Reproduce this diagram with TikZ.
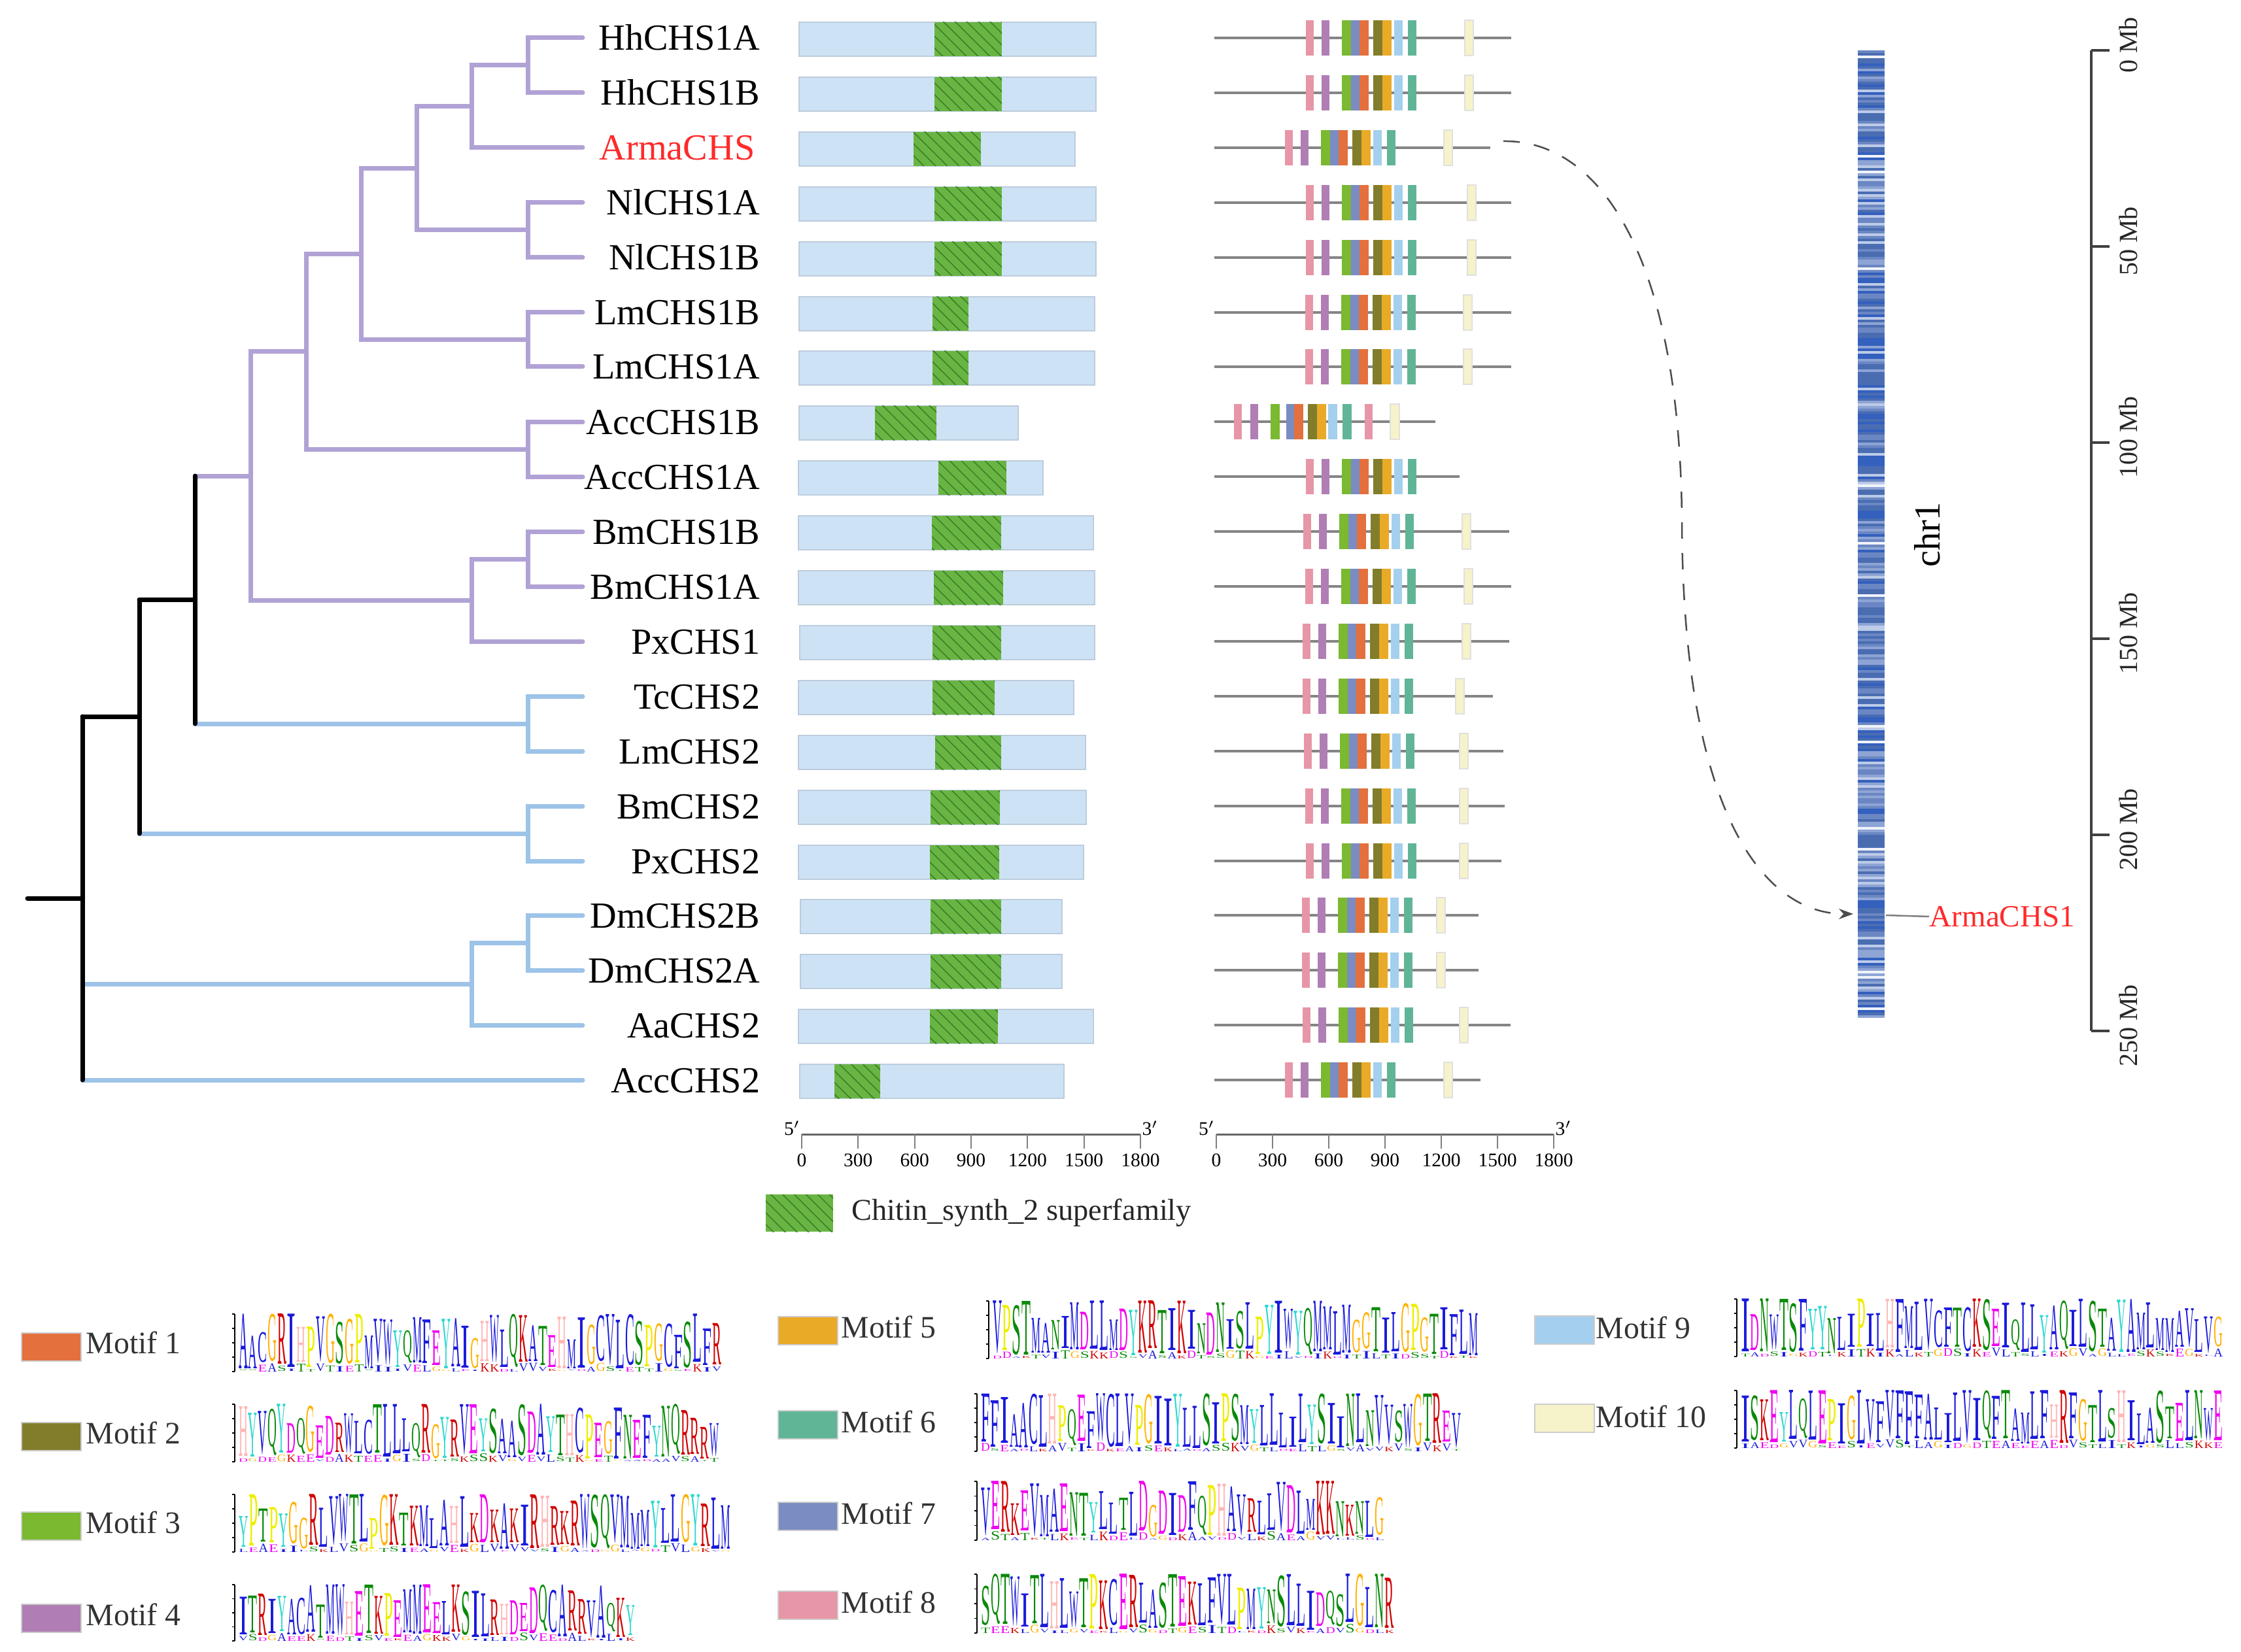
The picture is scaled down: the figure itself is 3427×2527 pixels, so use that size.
\documentclass[tikz,border=0pt]{standalone}
\usepackage{fontspec}
\setmainfont{Liberation Serif}
\usetikzlibrary{arrows.meta,patterns.meta}
\newdimen\pxu \pxu=0.1mm
% tree / panel colours
\definecolor{tpur}{HTML}{B1A2D6}
\definecolor{tblu}{HTML}{9DC4E8}
\definecolor{barfill}{HTML}{CDE3F5}
\definecolor{barline}{HTML}{BCCCDC}
\definecolor{dgreen}{HTML}{69B543}
\definecolor{dhatch}{HTML}{3C7F28}
\definecolor{mlinec}{HTML}{858585}
\definecolor{armared}{HTML}{FF2A2A}
% motif colours
\definecolor{m1}{HTML}{E4703D}
\definecolor{m2}{HTML}{827D2B}
\definecolor{m3}{HTML}{7AB930}
\definecolor{m4}{HTML}{B07EB4}
\definecolor{m5}{HTML}{E9AA27}
\definecolor{m6}{HTML}{60B596}
\definecolor{m7}{HTML}{7A8CC1}
\definecolor{m8}{HTML}{E796A7}
\definecolor{m9}{HTML}{A5CFEE}
\definecolor{m10}{HTML}{F6F3CA}
% chromosome colours
\definecolor{chA}{HTML}{4A6DB2}
\definecolor{chB}{HTML}{3460BE}
\definecolor{chC}{HTML}{6B87C3}
\definecolor{chD}{HTML}{8DA4D4}
\definecolor{chE}{HTML}{BDCBE8}
\definecolor{chF}{HTML}{F0F3FA}
% logo colours
\definecolor{lgblue}{HTML}{1A1ADB}
\definecolor{lggreen}{HTML}{0A8A0A}
\definecolor{lgmag}{HTML}{F000F0}
\definecolor{lgred}{HTML}{D00000}
\definecolor{lgpink}{HTML}{FFB6B6}
\definecolor{lgorange}{HTML}{FFB000}
\definecolor{lgyellow}{HTML}{EEEE00}
\definecolor{lgcyan}{HTML}{30D8D0}
\colorlet{lgA}{lgblue}\colorlet{lgC}{lgblue}\colorlet{lgF}{lgblue}\colorlet{lgI}{lgblue}
\colorlet{lgL}{lgblue}\colorlet{lgV}{lgblue}\colorlet{lgW}{lgblue}\colorlet{lgM}{lgblue}
\colorlet{lgN}{lggreen}\colorlet{lgQ}{lggreen}\colorlet{lgS}{lggreen}\colorlet{lgT}{lggreen}
\colorlet{lgD}{lgmag}\colorlet{lgE}{lgmag}
\colorlet{lgK}{lgred}\colorlet{lgR}{lgred}
\colorlet{lgH}{lgpink}\colorlet{lgG}{lgorange}\colorlet{lgP}{lgyellow}\colorlet{lgY}{lgcyan}

\tikzset{
  tp/.style={line width=0.7mm, draw=tpur, line cap=round},
  tb/.style={line width=0.7mm, draw=tblu, line cap=round},
  tk/.style={line width=0.7mm, draw=black, line cap=round},
  tl/.style={font=\fontsize{16}{19}\selectfont, inner sep=0pt, anchor=base east},
  barbox/.style={fill=barfill, draw=barline, line width=0.2mm},
  hatchbox/.style={fill=dgreen, postaction={pattern={Lines[angle=-45,distance=3.6pt,line width=0.45pt]}, pattern color=dhatch}},
  mline/.style={draw=mlinec, line width=0.4mm},
  axisl/.style={draw=gray!80!black, line width=0.3mm},
  ticklab/.style={font=\fontsize{8.4}{10}\selectfont, inner sep=0pt},
  motlab/.style={font=\fontsize{13.6}{16}\selectfont, text=black!80, inner sep=0pt, anchor=base west},
  motbox/.style={draw=black!20, line width=0.15mm},
  mblab/.style={font=\fontsize{11.4}{13}\selectfont, inner sep=0pt, rotate=90, text=black!85},
  lgl/.style={inner sep=0pt, outer sep=0pt, anchor=south west},
}

% domain row: y, left, right, green left, green right
\newcommand\drow[5]{%
  \draw[barbox] (#2,{#1-24}) rectangle (#3,{#1+28});
  \fill[hatchbox] (#4,{#1-24}) rectangle (#5,{#1+28});
}
% motif row: y, pink x, cream x (0 = none), line end
\newcommand\mrow[4]{%
  \draw[mline] (1857,#1) -- (#4,#1);
  \foreach \mo/\mw/\mc in {0/12/m8,24/12/m4,55/14/m3,69/13/m7,82/14/m1,103/14/m2,117/14/m5,135/13/m9,156/13/m6}
    \fill[\mc] ({#2+\mo},{#1-27}) rectangle ({#2+\mo+\mw},{#1+27});
  \ifnum#3>0 \filldraw[fill=m10, draw=black!12, line width=0.15mm] (#3,{#1-27}) rectangle ({#3+13},{#1+27});\fi
}
\pgfmathdeclarerandomlist{tinyl}{{A}{S}{L}{V}{K}{E}{G}{T}{D}{I}}
% logo: x0, x1, ybottom, height, list
\newcommand\logo[5]{%
  \foreach \lgch [count=\lgi] in {#5} {\xdef\logon{\lgi}}
  \pgfmathsetmacro\lgcw{(#2-#1)/\logon}
  \pgfmathsetmacro\lgw{0.94*\lgcw}
  \draw[black, line width=0.2mm] ({#1-6},#3) -- ({#1-6},{#3-#4});
  \foreach \tk in {0,0.25,0.5,0.75,1} \draw[black, line width=0.15mm] ({#1-10},{#3-#4*\tk}) -- ({#1-6},{#3-#4*\tk});
  \foreach \lgch [count=\lgi] in {#5} {
    \pgfmathsetmacro\lgbb{#4*(0.05+0.13*rnd)}
    \pgfmathsetmacro\lghh{min(#4*(0.5+0.5*rnd), #4-\lgbb)}
    \pgfmathsetmacro\lgtb{\lgbb-3}
    \pgfmathrandomitem{\tinych}{tinyl}
    \node[lgl] at ({#1+(\lgi-1)*\lgcw},{#3-\lgbb}) {\resizebox*{\lgw\pxu}{\lghh\pxu}{\textcolor{lg\lgch}{\lgch}}};
    \node[lgl] at ({#1+(\lgi-1)*\lgcw},#3) {\resizebox*{\lgw\pxu}{\lgtb\pxu}{\textcolor{lg\tinych}{\tinych}}};
  }
}

\begin{document}
\begin{tikzpicture}[x=0.1mm, y=-0.1mm]
\useasboundingbox (0,0) rectangle (3427,2527);
\pgfmathsetseed{11}

% ---------------- tree ----------------
\foreach \i/\yy in {1/58,2/142,3/226,4/310,5/394,6/478,7/561,8/645,9/729,10/813,11/897,12/981,13/1065,14/1149,15/1233,16/1317,17/1400,18/1484,19/1568,20/1652}
  \coordinate (L\i) at (891,\yy);
\coordinate (nHh) at (807,100);
\coordinate (nHhA) at (721,163);
\coordinate (nNl) at (807,352);
\coordinate (nHN) at (637,257.5);
\coordinate (nLm) at (807,519.5);
\coordinate (nHNL) at (552,388.5);
\coordinate (nAcc1) at (807,687);
\coordinate (nP1a) at (468,538);
\coordinate (nBm) at (807,855);
\coordinate (nBP) at (721,918);
\coordinate (nP1) at (383,728);
\coordinate (nTL) at (807,1107);
\coordinate (nB1) at (298,917.5);
\coordinate (nBP2) at (807,1275);
\coordinate (nB2) at (213,1096);
\coordinate (nDm) at (807,1442);
\coordinate (nDA) at (721,1505);
\coordinate (root) at (126,1374);
\coordinate (r0) at (42,1374);

\draw[tp] (nHh) |- (L1); \draw[tp] (nHh) |- (L2);
\draw[tp] (nHhA) |- (nHh); \draw[tp] (nHhA) |- (L3);
\draw[tp] (nNl) |- (L4); \draw[tp] (nNl) |- (L5);
\draw[tp] (nHN) |- (nHhA); \draw[tp] (nHN) |- (nNl);
\draw[tp] (nLm) |- (L6); \draw[tp] (nLm) |- (L7);
\draw[tp] (nHNL) |- (nHN); \draw[tp] (nHNL) |- (nLm);
\draw[tp] (nAcc1) |- (L8); \draw[tp] (nAcc1) |- (L9);
\draw[tp] (nP1a) |- (nHNL); \draw[tp] (nP1a) |- (nAcc1);
\draw[tp] (nBm) |- (L10); \draw[tp] (nBm) |- (L11);
\draw[tp] (nBP) |- (nBm); \draw[tp] (nBP) |- (L12);
\draw[tp] (nP1) |- (nP1a); \draw[tp] (nP1) |- (nBP);
\draw[tp] (nB1 |- nP1) -- (nP1);
\draw[tb] (nTL) |- (L13); \draw[tb] (nTL) |- (L14);
\draw[tb] (nB1 |- nTL) -- (nTL);
\draw[tk] (nB1 |- nP1) -- (nB1 |- nTL);
\draw[tb] (nBP2) |- (L15); \draw[tb] (nBP2) |- (L16);
\draw[tk] (nB2 |- nB1) -- (nB1);
\draw[tb] (nB2 |- nBP2) -- (nBP2);
\draw[tk] (nB2 |- nB1) -- (nB2 |- nBP2);
\draw[tb] (nDm) |- (L17); \draw[tb] (nDm) |- (L18);
\draw[tb] (nDA) |- (nDm); \draw[tb] (nDA) |- (L19);
\draw[tk] (root |- nB2) -- (nB2);
\draw[tb] (root |- nDA) -- (nDA);
\draw[tb] (root |- L20) -- (L20);
\draw[tk] (root |- nB2) -- (root |- L20);
\draw[tk] (r0) -- (root);

% labels
\foreach \i/\yy/\nm in {1/58/HhCHS1A,2/142/HhCHS1B,4/310/NlCHS1A,5/394/NlCHS1B,6/478/LmCHS1B,7/561/LmCHS1A,8/645/AccCHS1B,9/729/AccCHS1A,10/813/BmCHS1B,11/897/BmCHS1A,12/981/PxCHS1,13/1065/TcCHS2,14/1149/LmCHS2,15/1233/BmCHS2,16/1317/PxCHS2,17/1400/DmCHS2B,18/1484/DmCHS2A,19/1568/AaCHS2,20/1652/AccCHS2}
  \node[tl] (lab\i) at (1163,{\yy+19}) {\nm};
\node[tl, text=armared] (lab3) at (1155,{226+19}) {ArmaCHS};

% ---------------- domain bars ----------------
\drow{58}{1222}{1676}{1429}{1532}
\drow{142}{1222}{1676}{1429}{1532}
\drow{226}{1222}{1644}{1397}{1500}
\drow{310}{1222}{1676}{1429}{1532}
\drow{394}{1222}{1676}{1429}{1532}
\drow{478}{1222}{1674}{1426}{1481}
\drow{561}{1222}{1674}{1426}{1481}
\drow{645}{1222}{1557}{1338}{1432}
\drow{729}{1221}{1595}{1435}{1539}
\drow{813}{1221}{1672}{1425}{1531}
\drow{897}{1221}{1674}{1428}{1534}
\drow{981}{1223}{1674}{1426}{1531}
\drow{1065}{1221}{1642}{1426}{1521}
\drow{1149}{1221}{1660}{1430}{1531}
\drow{1233}{1221}{1661}{1423}{1529}
\drow{1317}{1221}{1657}{1422}{1528}
\drow{1400}{1224}{1624}{1423}{1531}
\drow{1484}{1224}{1624}{1423}{1531}
\drow{1568}{1221}{1672}{1422}{1526}
\drow{1652}{1223}{1627}{1276}{1346}

% ---------------- motif rows ----------------
\mrow{58}{1997}{2240}{2311}
\mrow{142}{1997}{2240}{2311}
\mrow{226}{1965}{2208}{2279}
\mrow{310}{1997}{2244}{2311}
\mrow{394}{1997}{2244}{2311}
\mrow{478}{1996}{2238}{2311}
\mrow{561}{1996}{2238}{2311}
\draw[mline] (1857,645) -- (2195,645);
\foreach \ma/\mb/\mc in {1887/1899/m8,1912/1924/m4,1943/1957/m3,1967/1979/m7,1979/1993/m1,2000/2014/m2,2014/2028/m5,2031/2045/m9,2053/2067/m6,2087/2099/m8}
  \fill[\mc] (\ma,{645-27}) rectangle (\mb,{645+27});
\filldraw[fill=m10, draw=black!12, line width=0.15mm] (2126,{645-27}) rectangle (2140,{645+27});
\mrow{729}{1997}{0}{2232}
\mrow{813}{1993}{2236}{2308}
\mrow{897}{1996}{2239}{2311}
\mrow{981}{1992}{2236}{2308}
\mrow{1065}{1992}{2226}{2283}
\mrow{1149}{1994}{2232}{2299}
\mrow{1233}{1996}{2232}{2301}
\mrow{1317}{1997}{2232}{2296}
\mrow{1400}{1991}{2197}{2261}
\mrow{1484}{1991}{2197}{2261}
\mrow{1568}{1992}{2232}{2310}
\mrow{1652}{1965}{2208}{2264}

% ---------------- scales ----------------
\draw[axisl] (1226,1735) -- (1744,1735);
\foreach \k in {0,...,6} {
  \draw[draw=gray, line width=0.18mm] ({1226+\k*86.33},1735) -- ({1226+\k*86.33},1757);
  \pgfmathtruncatemacro\lv{\k*300}
  \node[ticklab] at ({1226+\k*86.33},1775) {\lv};
}
\node[ticklab, anchor=east] at (1224,1726) {5$'$};
\node[ticklab, anchor=west] at (1746,1726) {3$'$};
\draw[axisl] (1860,1735) -- (2376,1735);
\foreach \k in {0,...,6} {
  \draw[draw=gray, line width=0.18mm] ({1860+\k*86},1735) -- ({1860+\k*86},1757);
  \pgfmathtruncatemacro\lv{\k*300}
  \node[ticklab] at ({1860+\k*86},1775) {\lv};
}
\node[ticklab, anchor=east] at (1858,1726) {5$'$};
\node[ticklab, anchor=west] at (2378,1726) {3$'$};

% domain legend
\fill[hatchbox] (1171,1827) rectangle (1274,1884);
\node[font=\fontsize{13.2}{16}\selectfont, inner sep=0pt, anchor=base west, text=black!85] (chitin) at (1302,1866) {Chitin\_synth\_2 superfamily};

% ---------------- chromosome ----------------
\fill[chA] (2841,77) rectangle (2882,1557);
\foreach \k in {0,...,369} {
  \pgfmathrandominteger{\rc}{0}{19}
  \ifcase\rc \def\sc{chA}\or\def\sc{chA}\or\def\sc{chA}\or\def\sc{chA}\or\def\sc{chA}\or\def\sc{chA}\or\def\sc{chB}\or\def\sc{chB}\or\def\sc{chB}\or\def\sc{chB}\or\def\sc{chC}\or\def\sc{chC}\or\def\sc{chC}\or\def\sc{chC}\or\def\sc{chD}\or\def\sc{chD}\or\def\sc{chD}\or\def\sc{chE}\or\def\sc{chE}\or\def\sc{chF}\else\def\sc{chA}\fi
  \fill[\sc] (2841,{77+4*\k}) rectangle (2882,{81+4*\k});
}
\node[font=\fontsize{16}{19}\selectfont, rotate=90, inner sep=0pt] (chr) at (2947,818) {chr1};
\coordinate (chrHit) at (2834,1398);
\coordinate (chrR) at (2884,1400);
\node[font=\fontsize{13.4}{16}\selectfont, text=armared, inner sep=0pt, anchor=west] (armalab) at (2950,1402) {ArmaCHS1};
\draw[draw=gray, line width=0.25mm] (chrR) -- (armalab.west);
\coordinate (armaEnd) at (2299,216);
\coordinate (bend) at (2572,800);
\draw[draw=black!70, line width=0.25mm, dash pattern=on 2.5mm off 2.2mm, -{Stealth[length=2.2mm,width=1.6mm]}]
  (armaEnd) .. controls (2450,214) and (2570,400) .. (bend) .. controls (2574,1250) and (2700,1398) .. (chrHit);

% Mb scale
\draw[draw=black!75, line width=0.35mm] (3198,77) -- (3198,1577);
\foreach \k/\lb in {0/0 Mb,1/50 Mb,2/100 Mb,3/150 Mb,4/200 Mb,5/250 Mb} {
  \draw[draw=black!75, line width=0.35mm] (3198,{77+300*\k}) -- (3226,{77+300*\k});
  \node[mblab] at (3255,{69+300*\k}) {\lb};
}

% ---------------- motif legend ----------------
\foreach \mc/\bx/\by/\tx/\ty/\txt in {m1/33/2039/131/2070/Motif 1, m2/33/2176/131/2208/Motif 2, m3/33/2313/131/2345/Motif 3, m4/33/2454/131/2486/Motif 4, m5/1190/2014/1286/2046/Motif 5, m6/1190/2158/1286/2191/Motif 6, m7/1190/2298/1286/2331/Motif 7, m8/1190/2434/1286/2467/Motif 8, m9/2347/2013/2440/2047/Motif 9, m10/2347/2148/2440/2183/Motif 10} {
  \filldraw[motbox, fill=\mc] (\bx,\by) rectangle ({\bx+91},{\by+43});
  \node[motlab] at (\tx,\ty) {\txt};
}

% logos
\logo{365}{1104}{2098}{88}{A,A,C,G,R,I,H,P,V,G,S,G,P,M,V,W,Y,Q,M,F,E,Y,A,I,G,H,W,L,Q,K,A,T,E,H,M,I,G,C,V,L,C,S,P,G,C,F,S,L,F,R}
\logo{365}{1100}{2236}{88}{H,Y,V,Q,Y,D,Q,G,E,D,R,W,L,C,T,L,L,L,Q,R,G,Y,R,V,E,Y,S,A,A,S,D,A,Y,T,H,C,P,E,G,F,N,E,F,Y,N,Q,R,R,R,W}
\logo{365}{1118}{2374}{88}{Y,P,T,P,Y,G,G,R,L,V,W,T,L,P,G,K,T,K,M,L,A,H,L,K,D,K,A,K,I,R,H,R,K,R,W,S,Q,V,M,M,M,Y,L,L,G,Y,R,L,M}
\logo{365}{972}{2510}{86}{I,T,R,I,Y,A,C,A,T,M,W,H,E,T,K,P,E,M,M,E,E,L,K,S,I,L,R,H,D,E,D,Q,C,A,R,R,V,A,Q,K,Y}
\logo{1518}{2261}{2078}{88}{V,P,S,T,M,A,N,I,M,D,L,L,M,D,Y,K,R,T,I,K,I,N,D,N,I,S,L,P,Y,I,W,Y,Q,M,M,L,M,G,G,T,I,L,G,P,G,T,I,F,L,M}
\logo{1500}{2235}{2220}{88}{F,F,I,A,A,C,L,H,P,Q,E,F,W,C,L,V,P,G,I,I,Y,L,L,S,I,P,S,M,Y,L,L,L,I,L,Y,S,I,I,N,L,N,V,V,S,W,G,T,R,E,V}
\logo{1500}{2118}{2356}{90}{V,E,R,K,E,V,M,A,E,N,T,Y,L,L,T,L,D,G,D,I,D,F,Q,P,H,A,V,R,L,L,V,D,L,M,K,K,N,K,N,L,G}
\logo{1500}{2133}{2498}{90}{S,Q,T,W,I,T,L,H,L,W,T,P,K,C,E,R,L,A,S,T,E,K,L,F,V,L,P,M,Y,N,S,L,L,I,D,Q,S,L,G,L,N,R}
\logo{2662}{3400}{2075}{88}{I,D,N,W,T,S,F,Y,Y,N,L,I,P,I,L,H,F,M,L,V,C,F,T,C,K,S,E,I,Q,L,L,Y,A,Q,I,L,S,T,A,Y,A,M,L,M,M,A,V,L,V,G}
\logo{2662}{3400}{2215}{88}{I,S,K,E,Y,L,Q,L,E,P,I,G,L,V,F,V,F,F,F,A,L,I,L,V,I,Q,F,T,A,M,L,F,H,R,F,G,T,L,S,H,I,L,A,S,T,E,L,N,W,E}
\end{tikzpicture}
\end{document}
